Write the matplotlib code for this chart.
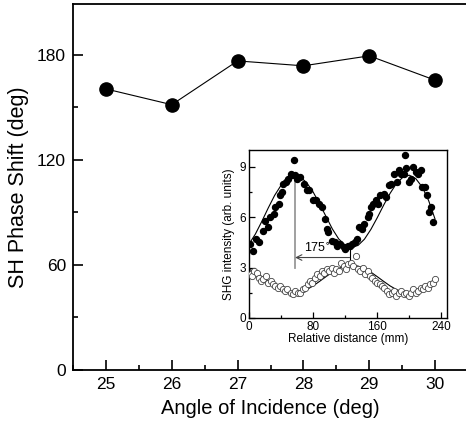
import matplotlib
matplotlib.use("Agg")
import matplotlib.pyplot as plt
from matplotlib.ticker import MultipleLocator

plt.rcParams['font.family'] = ['Liberation Sans', 'DejaVu Sans']

# Main data
angles = [25, 26, 27, 28, 29, 30]
phase_shift = [160.5, 151.5, 176.5, 173.7, 179.4, 165.5]

# Inset: filled dots (upper series)
fill_x = [1, 5, 9, 13, 18, 20, 24, 26, 31, 33, 37, 39, 41, 43, 46, 49, 52, 54, 56, 57, 60, 63,
          68, 72, 75, 80, 83, 87, 91, 95, 97, 99, 104, 107, 110, 114, 118, 120, 123, 126, 129,
          132, 135, 137, 141, 143, 148, 150, 152, 155, 158, 161, 164, 168, 171, 175, 177, 181,
          185, 187, 190, 193, 195, 196, 199, 202, 205, 208, 211, 214, 216, 219, 222, 224, 227, 230]
fill_y = [4.4, 4.0, 4.7, 4.5, 5.2, 5.8, 5.4, 6.0, 6.2, 6.6, 6.8, 7.3, 7.5, 8.0, 8.1, 8.3, 8.6, 8.5, 9.4, 8.5, 8.3, 8.4,
          8.0, 7.6, 7.6, 7.0, 7.0, 6.8, 6.6, 5.9, 5.3, 5.1, 4.6, 4.5, 4.3, 4.4, 4.2, 4.1, 4.3, 4.3, 4.4,
          4.5, 4.7, 5.4, 5.3, 5.6, 6.0, 6.2, 6.6, 6.8, 7.0, 6.8, 7.3, 7.4, 7.2, 7.9, 8.0, 8.6,
          8.1, 8.8, 8.6, 8.6, 9.7, 8.9, 8.1, 8.3, 9.0, 8.7, 8.6, 8.8, 7.8, 7.8, 7.3, 6.3, 6.6, 5.7]

# Inset: open circles (lower series)
open_x = [2, 4, 6, 10, 13, 15, 18, 21, 24, 27, 30, 33, 36, 39, 42, 45, 48, 52, 55, 58, 61, 64,
          67, 70, 73, 76, 79, 82, 85, 88, 91, 94, 97, 100, 103, 106, 109, 112, 115, 118, 121, 124,
          127, 130, 133, 136, 139, 142, 145, 148, 151, 154, 157, 160, 163, 166, 169, 172, 175, 178,
          181, 184, 187, 190, 193, 196, 199, 202, 205, 208, 211, 214, 217, 220, 223, 226, 229, 232]
open_y = [2.6, 2.5, 2.8, 2.7, 2.4, 2.2, 2.3, 2.5, 2.1, 2.2, 2.0, 1.9, 1.8, 1.9, 1.7, 1.6, 1.7, 1.5, 1.4, 1.6, 1.5, 1.5,
          1.7, 1.8, 2.0, 2.2, 2.1, 2.4, 2.6, 2.5, 2.8, 2.7, 2.9, 2.8, 3.0, 2.7, 2.9, 2.8, 3.3, 3.1, 2.9, 3.2,
          3.3, 3.1, 3.7, 2.9, 2.8, 3.0, 2.6, 2.8, 2.5, 2.4, 2.2, 2.1, 2.0, 1.9, 1.8, 1.6, 1.4, 1.5,
          1.6, 1.3, 1.5, 1.6, 1.4, 1.5, 1.3, 1.5, 1.7, 1.5, 1.6, 1.8, 1.7, 1.9, 1.8, 2.0, 2.1, 2.3]

# Fit curves
fit_x = [0, 8, 16, 24, 32, 40, 48, 56, 64, 72, 80, 88, 96, 104, 112, 120, 128, 136, 144, 152,
         160, 168, 176, 184, 192, 200, 208, 216, 224, 232]
fit_fill_y = [4.4, 5.0, 5.75, 6.55, 7.3, 7.9, 8.32, 8.5, 8.4, 8.05, 7.5, 6.8, 6.05, 5.3, 4.7, 4.33, 4.2, 4.32,
              4.69, 5.27, 5.97, 6.72, 7.42, 8.01, 8.38, 8.5, 8.3, 7.8, 7.0, 5.9]
fit_open_y = [2.9, 2.73, 2.46, 2.18, 1.91, 1.69, 1.55, 1.5, 1.55, 1.69, 1.91, 2.18, 2.46, 2.73, 2.95, 3.09,
              3.14, 3.09, 2.95, 2.73, 2.46, 2.18, 1.91, 1.69, 1.55, 1.5, 1.55, 1.69, 1.91, 2.25]

W, H = 466, 429
fig = plt.figure(figsize=(W / 100, H / 100), dpi=100)

# Main axes
ax = fig.add_axes([73 / W, (H - 370) / H, (468 - 73) / W, 366 / H])
ax.plot(angles, phase_shift, color='black', lw=0.8, marker='o', ms=9.5,
        markerfacecolor='black', markeredgecolor='black')
ax.set_xlim(24.5, 30.5)
ax.set_ylim(0, 209)
ax.xaxis.set_major_locator(MultipleLocator(1))
ax.xaxis.set_minor_locator(MultipleLocator(0.5))
ax.yaxis.set_major_locator(MultipleLocator(60))
ax.yaxis.set_minor_locator(MultipleLocator(30))
ax.tick_params(which='both', direction='in', top=False, right=False, width=1.2)
ax.tick_params(which='major', length=7, labelsize=12.5, pad=5)
ax.tick_params(which='minor', length=3.5)
ax.spines['right'].set_visible(False)
for s in ['left', 'bottom', 'top']:
    ax.spines[s].set_linewidth(1.3)
ax.set_xlabel('Angle of Incidence (deg)', fontsize=14.5, labelpad=5)
ax.set_ylabel('SH Phase Shift (deg)', fontsize=15.5, labelpad=6)

# Inset axes
ins = fig.add_axes([249 / W, (H - 318) / H, 198 / W, 168 / H])
ins.plot(fit_x, fit_fill_y, color='black', lw=0.8, zorder=2)
ins.plot(fit_x, fit_open_y, color='black', lw=0.8, zorder=2)
ins.plot(fill_x, fill_y, 'o', ms=4.3, color='black', zorder=3)
ins.plot(open_x, open_y, 'o', ms=4.5, markerfacecolor='white', markeredgecolor='#444444',
         markeredgewidth=0.6, zorder=3)
ins.set_xlim(0, 247)
ins.set_ylim(0, 10)
ins.xaxis.set_major_locator(MultipleLocator(80))
ins.xaxis.set_minor_locator(MultipleLocator(40))
ins.yaxis.set_major_locator(MultipleLocator(3))
ins.yaxis.set_minor_locator(MultipleLocator(1.5))
ins.tick_params(which='both', direction='in', width=0.9)
ins.tick_params(which='major', length=4, labelsize=8.5, pad=2)
ins.tick_params(which='minor', length=2.5)
for s in ins.spines.values():
    s.set_linewidth(1.0)
ins.set_xlabel('Relative distance (mm)', fontsize=8.5, labelpad=0)
ins.set_ylabel('SHG intensity (arb. units)', fontsize=8.5, labelpad=3)

# Annotation
ins.plot([57.5, 57.5], [3.0, 8.5], color='#999999', lw=1.3, zorder=1)
ins.plot([125.5, 125.5], [3.35, 4.1], color='black', lw=0.8, zorder=1)
ins.annotate('', xy=(57.5, 3.6), xytext=(125.5, 3.6),
             arrowprops=dict(arrowstyle='->', color='#444444', lw=0.8, shrinkA=0, shrinkB=0))
ins.text(86, 3.75, '175$^{\\circ}$', fontsize=9, ha='center', va='bottom')

fig.savefig('out.png', dpi=100)
